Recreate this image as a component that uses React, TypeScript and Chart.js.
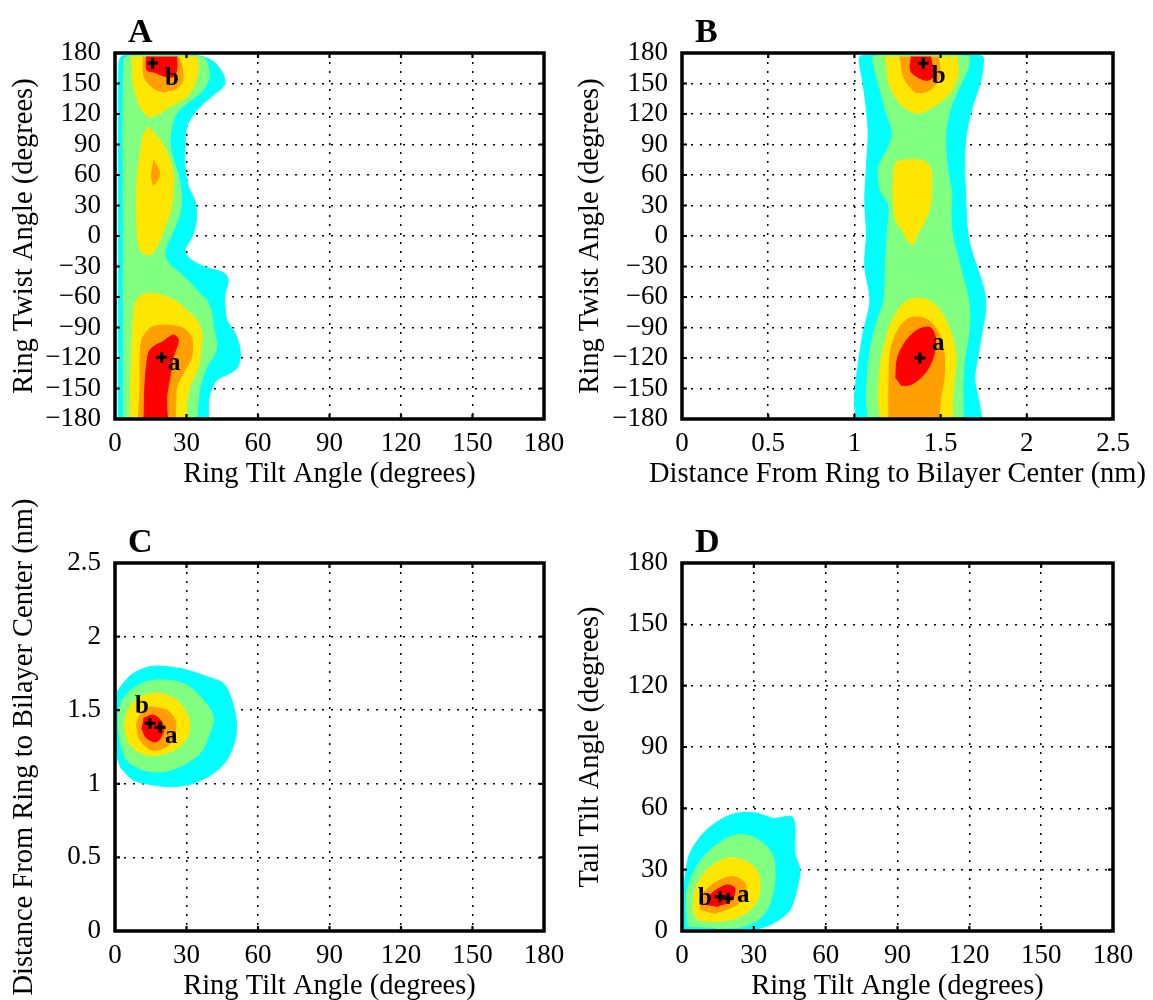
import React, { useEffect, useRef } from "react";
import { Chart, registerables } from "chart.js";

Chart.register(...registerables);

type Pt = [number, number];

// ---------- tick values ----------
const angleTicks = [0, 30, 60, 90, 120, 150, 180];
const twistTicks = [-180, -150, -120, -90, -60, -30, 0, 30, 60, 90, 120, 150, 180];
const distanceTicks = [0, 0.5, 1, 1.5, 2, 2.5];

// ---------- Panel A: ring tilt (x) vs ring twist (y) ----------
const A_cyan: Pt[] = [[1.4, -180], [1.4, -100], [1.5, 0], [1.5, 100], [1.6, 170], [3, 177], [12, 177.5], [25, 177.5], [35.7, 177], [41.3, 171.5], [44.8, 161.6], [46.2, 151.8], [44.8, 145.3], [41.3, 138.7], [35.7, 127.2], [32.5, 118], [30.1, 107.5], [29.4, 91.2], [29.4, 68.2], [30.8, 48.5], [33.5, 35], [34.3, 20], [33.6, 9], [32.5, 0], [30.5, -8], [29.4, -13], [30.5, -20], [34.3, -27], [40, -32], [45.4, -36], [47.5, -42], [47, -50], [46, -60], [46.2, -70], [46.9, -82.6], [50.4, -95.7], [52.5, -112], [51.7, -128.5], [48.3, -135], [42.7, -141.6], [39.9, -154.7], [39.2, -166], [39.2, -180]];
const A_green: Pt[] = [[3.5, -180], [3.5, 0], [3.6, 170], [5, 176.5], [20, 177], [37, 175.8], [39.2, 166.5], [39.2, 153.4], [35.7, 140.4], [30.1, 130.5], [25.9, 120.7], [23.8, 107.5], [23.1, 91.2], [24.5, 74.8], [26.6, 60], [27.3, 50], [28, 35.4], [27, 20], [25, 8], [23, -3], [21.3, -12], [21, -20], [23, -28], [27, -36], [31.5, -46], [35, -55], [38.5, -63], [40.5, -75], [41.3, -89.2], [42.5, -103], [42.7, -110], [41, -120], [38.5, -128.5], [35.7, -148.2], [34.8, -165], [34.3, -180]];
const A_yellowTop: Pt[] = [[7, 176.5], [7.3, 165], [7.7, 150.2], [8.8, 138], [10.5, 127.2], [14, 117.3], [17.5, 119], [23.1, 127.2], [30.1, 137], [33.6, 150.2], [35, 166.5], [34.3, 176.5]];
const A_orangeTop: Pt[] = [[11.9, 176.5], [12.2, 156.7], [16.1, 145.3], [20.3, 142], [25.9, 145.3], [28.4, 153.4], [28, 168.2], [26.6, 176.5]];
const A_redTop: Pt[] = [[13.3, 176.5], [13.3, 163.3], [16.5, 161], [20.3, 157.4], [24.5, 156.7], [25.9, 163.3], [25.9, 176.5]];
const A_yellowMid: Pt[] = [[14, 108], [16.5, 101], [18.9, 94.4], [21.5, 84], [23.1, 74.8], [24.5, 60], [24.5, 48.5], [23.8, 28.9], [21, 9.2], [17.5, -10.5], [14.7, -18.7], [10.5, -13.8], [9.1, 15.7], [9.1, 48.5], [9.8, 68], [10.5, 81.3], [11.9, 101]];
const A_orangeMid: Pt[] = [[16.1, 74.8], [18.9, 61.6], [16.1, 50.2], [15.1, 61.6]];
const A_yellowBot: Pt[] = [[6.3, -180], [6.5, -150], [7, -110], [7.7, -80], [8.4, -66], [11, -58], [13.3, -56.4], [18, -57], [21.7, -59.7], [26, -65], [30, -72.8], [34.3, -82.6], [36.4, -95], [36.4, -105.6], [35, -128.5], [31.5, -148.2], [30.1, -165], [30.1, -180]];
const A_orangeBot: Pt[] = [[9.8, -180], [10.5, -150], [10.5, -128.5], [11.2, -102.3], [14.7, -90.8], [18, -88], [21.7, -87.6], [28.7, -90.8], [32.2, -100.7], [32.2, -118.7], [29.4, -131.8], [25.9, -148.2], [25.5, -165], [25.2, -180]];
const A_redBot: Pt[] = [[12.2, -180], [12.6, -145], [14, -115.4], [16.1, -108.9], [20, -104], [24.5, -97.4], [26.6, -102.3], [24.5, -118.7], [23.1, -138.4], [21.7, -158], [22, -180]];
const A_markers: Pt[] = [[19.6, -119.4], [15.8, 170]];
const A_labelText = ["a", "b"];
const A_labelAt: Pt[] = [[22.2, -131.8], [21, 148.5]];

// ---------- Panel B: distance (x) vs ring twist (y) ----------
const B_cyan: Pt[] = [[1.01, -180], [1.0, -161], [1.02, -128.5], [1.05, -96], [1.09, -63], [1.06, -30], [1.07, 3], [1.06, 35], [1.07, 68], [1.08, 101], [1.07, 124], [1.05, 150], [1.03, 170], [1.035, 177], [1.2, 177.5], [1.5, 177.5], [1.74, 177], [1.745, 165], [1.73, 150], [1.7, 135], [1.68, 124], [1.65, 101], [1.64, 80], [1.64, 60], [1.645, 42], [1.65, 20], [1.66, 0], [1.69, -20], [1.73, -40], [1.76, -60], [1.76, -75], [1.74, -95], [1.72, -115], [1.7, -135], [1.7, -145], [1.72, -160], [1.74, -180]];
const B_green: Pt[] = [[1.08, -180], [1.07, -160], [1.08, -128.5], [1.11, -96], [1.17, -63], [1.18, -30], [1.19, 3], [1.2, 30], [1.15, 45], [1.14, 68], [1.19, 85], [1.22, 101], [1.18, 124], [1.14, 150], [1.11, 170], [1.11, 176.5], [1.4, 177], [1.66, 176.5], [1.66, 165], [1.62, 150], [1.58, 135], [1.554, 124], [1.53, 101], [1.535, 75], [1.55, 55], [1.565, 42], [1.56, 20], [1.57, 0], [1.6, -20], [1.63, -40], [1.66, -60], [1.67, -80], [1.66, -100], [1.64, -120], [1.63, -141], [1.63, -160], [1.63, -180]];
const B_yellowTop: Pt[] = [[1.178, 176.5], [1.19, 165], [1.2, 150.2], [1.264, 130.5], [1.361, 120.7], [1.458, 127.2], [1.554, 140.4], [1.603, 160], [1.593, 176.5]];
const B_orangeTop: Pt[] = [[1.264, 176.5], [1.284, 156.7], [1.32, 147], [1.361, 141], [1.438, 143.6], [1.497, 156.7], [1.487, 176.5]];
const B_redTop: Pt[] = [[1.33, 176.5], [1.325, 163], [1.36, 157], [1.42, 153], [1.46, 157], [1.45, 170], [1.44, 176.5]];
const B_yellowMid: Pt[] = [[1.24, 73], [1.3, 75], [1.4, 74], [1.44, 68], [1.45, 50], [1.44, 30], [1.41, 15], [1.37, 3], [1.34, -8], [1.31, -5], [1.28, 5], [1.24, 15], [1.225, 35], [1.225, 55], [1.23, 68]];
const B_yellowBot: Pt[] = [[1.15, -180], [1.14, -160], [1.15, -128], [1.19, -96], [1.24, -76], [1.3, -64], [1.38, -61], [1.45, -65], [1.51, -76], [1.56, -95], [1.59, -118], [1.58, -140], [1.57, -160], [1.57, -180]];
const B_orangeBot: Pt[] = [[1.2, -180], [1.2, -150], [1.21, -112], [1.26, -90], [1.33, -80], [1.42, -82], [1.49, -95], [1.52, -115], [1.52, -140], [1.5, -160], [1.49, -180]];
const B_redBot: Pt[] = [[1.24, -140], [1.25, -120], [1.3, -103], [1.37, -92], [1.44, -90], [1.47, -100], [1.46, -118], [1.41, -135], [1.33, -146], [1.27, -147]];
const B_markers: Pt[] = [[1.38, -120], [1.4, 169.9]];
const B_labelText = ["a", "b"];
const B_labelAt: Pt[] = [[1.45, -112], [1.448, 150.2]];

// ---------- Panel C: ring tilt (x) vs distance (y) ----------
const C_cyan: Pt[] = [[-1, 1.25], [-1, 1.52], [0.7, 1.615], [3.5, 1.683], [7.7, 1.75], [14.7, 1.796], [21.7, 1.796], [30.1, 1.773], [38.5, 1.728], [45.4, 1.683], [49, 1.569], [51, 1.41], [50.4, 1.298], [46.9, 1.162], [41.3, 1.071], [32.9, 1.003], [24.5, 0.98], [16.1, 0.992], [7.7, 1.026], [2.1, 1.116]];
const C_green: Pt[] = [[6.3, 1.637], [13.3, 1.694], [21.7, 1.705], [30.1, 1.671], [36.4, 1.581], [41.3, 1.456], [39.2, 1.32], [35.7, 1.207], [28.7, 1.128], [20.3, 1.082], [11.9, 1.094], [4.9, 1.162], [2.1, 1.298], [1.4, 1.456], [2.8, 1.569]];
const C_yellow: Pt[] = [[11.9, 1.603], [18.9, 1.615], [25.9, 1.569], [30.1, 1.479], [31.5, 1.388], [28.7, 1.275], [21.7, 1.207], [13.3, 1.196], [7, 1.252], [4.2, 1.366], [4.9, 1.479], [7.7, 1.558]];
const C_orange: Pt[] = [[14.7, 1.524], [21.7, 1.501], [25.2, 1.433], [25.2, 1.343], [21.7, 1.252], [15.4, 1.23], [10.5, 1.298], [9.1, 1.411], [11.2, 1.49]];
const C_red: Pt[] = [[11.9, 1.445], [16.1, 1.467], [19.6, 1.422], [20.3, 1.354], [17.5, 1.286], [13.3, 1.309], [11.2, 1.377]];
const C_markers: Pt[] = [[18.9, 1.384], [14.7, 1.41]];
const C_labelText = ["a", "b"];
const C_labelAt: Pt[] = [[21, 1.277], [8.4, 1.481]];

// ---------- Panel D: ring tilt (x) vs tail tilt (y) ----------
const D_cyan: Pt[] = [[-1, -1], [-1, 5.4], [1.3, 26.6], [3.3, 38], [8.9, 47.8], [15.9, 54.3], [22.8, 57.6], [31.2, 57.6], [38.1, 55.1], [45.8, 55.9], [47.2, 51], [47.2, 38], [49.3, 29.8], [47.9, 20.1], [45.1, 10.3], [38.1, 3.8], [29.8, 0.5], [15, -1]];
const D_green: Pt[] = [[2.6, 2.1], [2, 18.4], [6.1, 31.5], [11.7, 39.6], [20, 46.1], [27, 47], [34, 42.9], [38.1, 36.4], [38.8, 25], [36.8, 13.6], [32.6, 6.2], [25.6, 2.1], [14.5, 1.3]];
const D_yellow: Pt[] = [[4.7, 8.6], [5.4, 20.1], [10.3, 29.8], [18.7, 35.6], [25.6, 34.7], [31.2, 29.8], [32.6, 20.1], [29.8, 11.9], [22.8, 6.2], [13.1, 4.6], [6.8, 5.4]];
const D_orange: Pt[] = [[7.5, 10.3], [8.9, 18.4], [14.5, 24.1], [21.4, 26.6], [26.3, 23.3], [26.3, 16.8], [21.4, 11.9], [13.1, 8.6]];
const D_red: Pt[] = [[10.3, 12.7], [12.4, 18.4], [18.7, 22.5], [22.1, 20.9], [20.8, 15.2], [14.5, 11.9]];
const D_markers: Pt[] = [[19.3, 16], [15.9, 16.8]];
const D_labelText = ["a", "b"];
const D_labelAt: Pt[] = [[23, 14.2], [6.7, 12.7]];

// ---------- styles ----------
const LEVEL_COLORS = ["#00FFFF", "#80FF80", "#FFE600", "#FFA000", "#FF0000"];
const SERIF = "'Liberation Serif', 'Times New Roman', serif";

interface Layer { pts: Pt[]; level: number }
interface PanelDef {
  letter: string;
  left: number; top: number; W: number; H: number;
  area: { l: number; t: number; r: number; b: number };
  xTitle: string; yTitle: string;
  xTicks: number[]; yTicks: number[];
  layers: Layer[];
  markers: Pt[]; labelText: string[]; labelAt: Pt[];
}

const PANELS: PanelDef[] = [
  {
    letter: "A", left: 0, top: 0, W: 576, H: 500,
    area: { l: 115, t: 53, r: 544, b: 419 },
    xTitle: "Ring Tilt Angle (degrees)", yTitle: "Ring Twist Angle (degrees)",
    xTicks: angleTicks, yTicks: twistTicks,
    layers: [
      { pts: A_cyan, level: 0 }, { pts: A_green, level: 1 },
      { pts: A_yellowTop, level: 2 }, { pts: A_yellowMid, level: 2 }, { pts: A_yellowBot, level: 2 },
      { pts: A_orangeTop, level: 3 }, { pts: A_orangeMid, level: 3 }, { pts: A_orangeBot, level: 3 },
      { pts: A_redTop, level: 4 }, { pts: A_redBot, level: 4 },
    ],
    markers: A_markers, labelText: A_labelText, labelAt: A_labelAt,
  },
  {
    letter: "B", left: 566, top: 0, W: 587, H: 500,
    area: { l: 116, t: 53, r: 547, b: 419 },
    xTitle: "Distance From Ring to Bilayer Center (nm)", yTitle: "Ring Twist Angle (degrees)",
    xTicks: distanceTicks, yTicks: twistTicks,
    layers: [
      { pts: B_cyan, level: 0 }, { pts: B_green, level: 1 },
      { pts: B_yellowTop, level: 2 }, { pts: B_yellowMid, level: 2 }, { pts: B_yellowBot, level: 2 },
      { pts: B_orangeTop, level: 3 }, { pts: B_orangeBot, level: 3 },
      { pts: B_redTop, level: 4 }, { pts: B_redBot, level: 4 },
    ],
    markers: B_markers, labelText: B_labelText, labelAt: B_labelAt,
  },
  {
    letter: "C", left: 0, top: 490, W: 576, H: 510,
    area: { l: 115, t: 73, r: 544, b: 441 },
    xTitle: "Ring Tilt Angle (degrees)", yTitle: "Distance From Ring to Bilayer Center (nm)",
    xTicks: angleTicks, yTicks: distanceTicks,
    layers: [
      { pts: C_cyan, level: 0 }, { pts: C_green, level: 1 }, { pts: C_yellow, level: 2 },
      { pts: C_orange, level: 3 }, { pts: C_red, level: 4 },
    ],
    markers: C_markers, labelText: C_labelText, labelAt: C_labelAt,
  },
  {
    letter: "D", left: 566, top: 490, W: 587, H: 510,
    area: { l: 116, t: 73, r: 547, b: 441 },
    xTitle: "Ring Tilt Angle (degrees)", yTitle: "Tail Tilt Angle (degrees)",
    xTicks: angleTicks, yTicks: angleTicks,
    layers: [
      { pts: D_cyan, level: 0 }, { pts: D_green, level: 1 }, { pts: D_yellow, level: 2 },
      { pts: D_orange, level: 3 }, { pts: D_red, level: 4 },
    ],
    markers: D_markers, labelText: D_labelText, labelAt: D_labelAt,
  },
];

const fmtTick = (v: number | string) => {
  const n = Number(v);
  return n < 0 ? "\u2212" + Math.abs(n) : String(n);
};

function framePlugin(p: PanelDef) {
  return {
    id: "frame" + p.letter,
    afterDatasetsDraw(chart: any) {
      const { ctx, chartArea: a, scales } = chart;
      const xs = scales.x, ys = scales.y;
      ctx.save();
      ctx.strokeStyle = "#000";
      ctx.lineWidth = 2.2;
      ctx.beginPath();
      for (const t of xs.ticks) {
        const px = xs.getPixelForValue(t.value);
        ctx.moveTo(px, a.bottom); ctx.lineTo(px, a.bottom - 5);
        ctx.moveTo(px, a.top); ctx.lineTo(px, a.top + 5);
      }
      for (const t of ys.ticks) {
        const py = ys.getPixelForValue(t.value);
        ctx.moveTo(a.left, py); ctx.lineTo(a.left + 5, py);
        ctx.moveTo(a.right, py); ctx.lineTo(a.right - 5, py);
      }
      ctx.stroke();
      ctx.lineWidth = 3.5;
      ctx.strokeRect(a.left, a.top, a.right - a.left, a.bottom - a.top);

      // point labels a / b
      ctx.fillStyle = "#000";
      ctx.font = `bold 25px ${SERIF}`;
      ctx.textAlign = "left";
      ctx.textBaseline = "alphabetic";
      p.labelText.forEach((txt, i) => {
        const [lx, ly] = p.labelAt[i];
        ctx.fillText(txt, xs.getPixelForValue(lx), ys.getPixelForValue(ly));
      });
      ctx.restore();
    },
    afterDraw(chart: any) {
      const { ctx, chartArea: a } = chart;
      ctx.save();
      ctx.fillStyle = "#000";
      // axis titles
      ctx.font = `28.5px ${SERIF}`;
      ctx.textAlign = "center";
      ctx.textBaseline = "alphabetic";
      ctx.fillText(p.xTitle, (a.left + a.right) / 2, a.bottom + 63);
      ctx.save();
      ctx.translate(32, (a.top + a.bottom) / 2);
      ctx.rotate(-Math.PI / 2);
      ctx.fillText(p.yTitle, 0, 0);
      ctx.restore();
      // panel letter
      ctx.font = `bold 34px ${SERIF}`;
      ctx.textAlign = "left";
      ctx.fillText(p.letter, a.left + 13, a.top - 11);
      ctx.restore();
    },
  };
}

function buildConfig(p: PanelDef): any {
  const datasets: any[] = p.layers.map(({ pts, level }) => ({
    data: pts.map(([x, y]) => ({ x, y })),
    fill: "shape",
    backgroundColor: LEVEL_COLORS[level],
    borderColor: LEVEL_COLORS[level],
    borderWidth: 1,
    pointRadius: 0,
    pointHoverRadius: 0,
    tension: 0.3,
    order: 10 - level,
  }));
  datasets.push({
    data: p.markers.map(([x, y]) => ({ x, y })),
    showLine: false,
    fill: false,
    pointStyle: "cross",
    pointRadius: 5.5,
    pointBorderWidth: 3.2,
    pointBorderColor: "#000",
    pointBackgroundColor: "#000",
    order: 0,
  });
  const tickFont = { family: SERIF, size: 27, lineHeight: 1 };
  const grid = { color: "#000", lineWidth: 1.5, drawTicks: false };
  const border = { display: false, dash: [2, 7] };
  return {
    type: "line",
    data: { datasets },
    options: {
      responsive: false,
      animation: false,
      events: [],
      layout: { padding: { top: p.area.t, right: p.W - p.area.r, left: 0, bottom: 0 } },
      plugins: { legend: { display: false }, tooltip: { enabled: false }, title: { display: false } },
      scales: {
        x: {
          type: "linear",
          position: "bottom",
          min: p.xTicks[0],
          max: p.xTicks[p.xTicks.length - 1],
          afterBuildTicks: (s: any) => { s.ticks = p.xTicks.map((v) => ({ value: v })); },
          afterFit: (s: any) => { s.height = p.H - p.area.b; },
          ticks: { font: tickFont, color: "#000", padding: 11, autoSkip: false, maxRotation: 0, minRotation: 0, callback: fmtTick },
          grid,
          border,
        },
        y: {
          type: "linear",
          position: "left",
          min: p.yTicks[0],
          max: p.yTicks[p.yTicks.length - 1],
          afterBuildTicks: (s: any) => { s.ticks = p.yTicks.map((v) => ({ value: v })); },
          afterFit: (s: any) => { s.width = p.area.l; },
          ticks: { font: tickFont, color: "#000", padding: 14, autoSkip: false, callback: fmtTick },
          grid,
          border,
        },
      },
    },
    plugins: [framePlugin(p)],
  };
}

function Panel({ p }: { p: PanelDef }) {
  const ref = useRef<HTMLCanvasElement>(null);
  useEffect(() => {
    const chart = new Chart(ref.current as HTMLCanvasElement, buildConfig(p));
    return () => chart.destroy();
  }, [p]);
  return (
    <canvas
      ref={ref}
      width={p.W}
      height={p.H}
      style={{ position: "absolute", left: p.left, top: p.top, width: p.W, height: p.H }}
    />
  );
}

export default function App() {
  return (
    <div style={{ position: "absolute", left: 0, top: 0, width: 1153, height: 1000, background: "#fff", overflow: "hidden" }}>
      {PANELS.map((p) => (
        <Panel key={p.letter} p={p} />
      ))}
    </div>
  );
}
